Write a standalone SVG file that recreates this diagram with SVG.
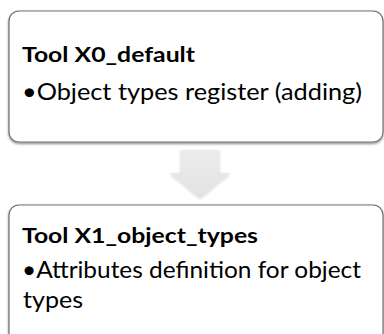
<svg xmlns="http://www.w3.org/2000/svg" width="384" height="334" viewBox="0 0 384 334">
  <defs>
    <filter id="boxShadow" x="-5%" y="-5%" width="110%" height="115%">
      <feDropShadow dx="0" dy="1.5" stdDeviation="1.2" flood-color="#000" flood-opacity="0.45"/>
    </filter>
    <filter id="arrowShadow" x="-20%" y="-20%" width="140%" height="140%">
      <feDropShadow dx="0" dy="1" stdDeviation="1.5" flood-color="#000" flood-opacity="0.2"/>
    </filter>
    <linearGradient id="arrowFill" x1="0" y1="0" x2="0" y2="1">
      <stop offset="0" stop-color="#ececec"/>
      <stop offset="1" stop-color="#e2e2e2"/>
    </linearGradient>
    <style>
      .box { fill: #ffffff; stroke: #707070; stroke-width: 1.2; filter: url(#boxShadow); }
      .title { font-family: Lato, "Open Sans", "Liberation Sans", sans-serif; font-weight: bold; font-size: 21.5px; fill: #000; }
      .body { font-family: Lato, "Open Sans", "Liberation Sans", sans-serif; font-size: 24px; fill: #000; }
    </style>
  </defs>

  <g id="connectors">
    <polygon points="181,150 219,150 219,173 230,173 200,198 170,173 181,173" fill="url(#arrowFill)" filter="url(#arrowShadow)"/>
  </g>

  <g id="node-x0-default">
    <rect class="box" x="9" y="11" width="374" height="131" rx="10" ry="10"/>
    <text class="title" x="22" y="62" textLength="173" lengthAdjust="spacingAndGlyphs">Tool X0_default</text>
    <text class="body" x="22" y="100" textLength="340" lengthAdjust="spacingAndGlyphs">•Object types register (adding)</text>
  </g>

  <g id="node-x1-object-types">
    <rect class="box" x="9" y="205" width="374" height="140" rx="10" ry="10"/>
    <text class="title" x="22" y="243" textLength="236" lengthAdjust="spacingAndGlyphs">Tool X1_object_types</text>
    <text class="body" x="22" y="278" textLength="339" lengthAdjust="spacingAndGlyphs">•Attributes definition for object</text>
    <text class="body" x="23" y="308" textLength="60" lengthAdjust="spacingAndGlyphs">types</text>
  </g>
</svg>
